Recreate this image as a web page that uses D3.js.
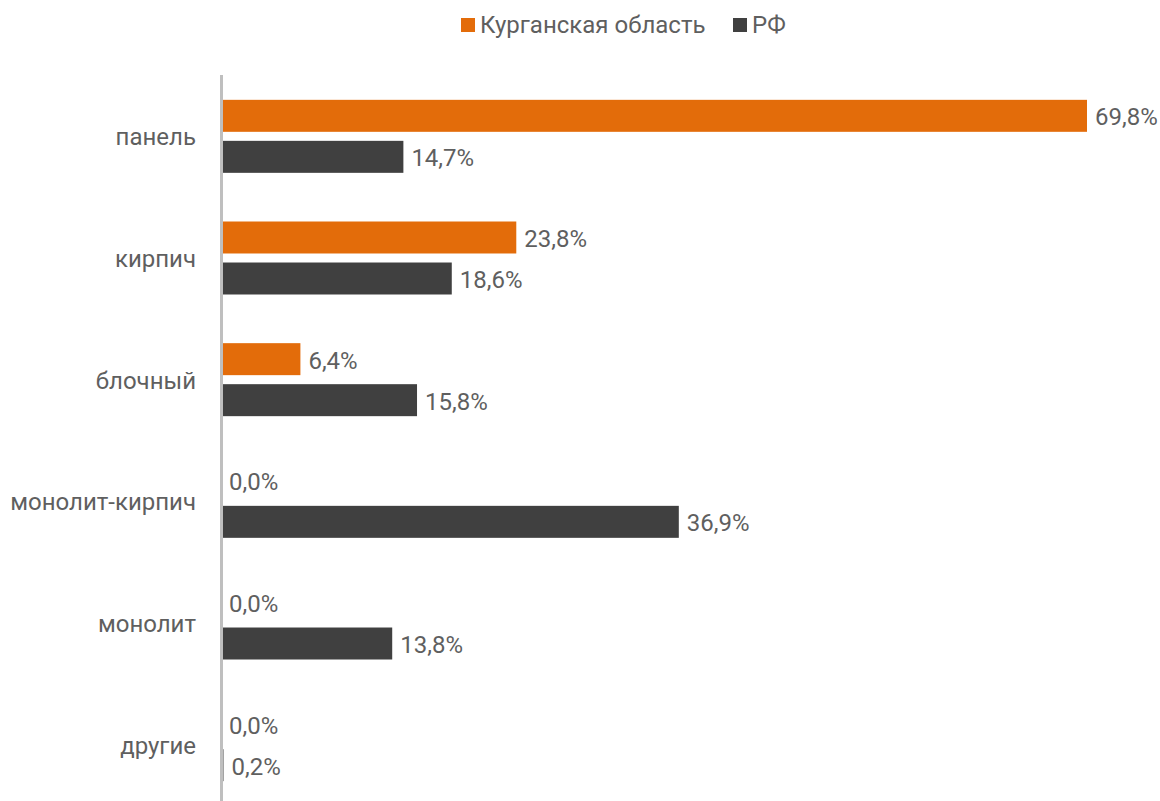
<!DOCTYPE html>
<html>
<head>
<meta charset="utf-8">
<script src="https://cdn.jsdelivr.net/npm/d3@7"></script>
<style>
  body { margin: 0; background: #fff; }
  text { font-family: Roboto, "Noto Sans", sans-serif; }
</style>
</head>
<body>
<div id="chart"></div>
<script>
// DATA
const categories = ["панель", "кирпич", "блочный", "монолит-кирпич", "монолит", "другие"]
const seriesNames = ["Курганская область", "РФ"]
const kurgan = [69.8, 23.8, 6.4, 0.0, 0.0, 0.0]
const rf = [14.7, 18.6, 15.8, 36.9, 13.8, 0.2]
const colors = ["#e36c0a", "#404040"]

const width = 1160, height = 801
const x0 = 221

const data = categories.map((c, i) => ({cat: c, vals: [kurgan[i], rf[i]]}))

const svg = d3.select("#chart").append("svg")
  .attr("width", width)
  .attr("height", height)

const yScale = d3.scaleBand()
  .domain(categories)
  .range([76, 806])

const xScale = d3.scaleLinear()
  .domain([0, 69.8])
  .range([x0, 1087])

const sub = d3.scaleBand()
  .domain([0, 1])
  .range([0, 73])
  .paddingInner(0.22)

// category labels
svg.append("g")
  .selectAll("text")
  .data(categories)
  .join("text")
    .attr("x", 196)
    .attr("y", d => yScale(d) + yScale.bandwidth() / 2)
    .attr("dy", "0.35em")
    .attr("text-anchor", "end")
    .attr("font-size", 24)
    .attr("fill", "#5f5f5f")
    .text(d => d)

// bars
const groups = svg.append("g")
  .selectAll("g")
  .data(data)
  .join("g")
    .attr("transform", d => `translate(0, ${yScale(d.cat) + yScale.bandwidth() / 2 - 37})`)

groups.selectAll("rect")
  .data(d => d.vals)
  .join("rect")
    .attr("x", x0)
    .attr("y", (d, i) => sub(i))
    .attr("width", d => xScale(d) - x0)
    .attr("height", sub.bandwidth())
    .attr("fill", (d, i) => colors[i])

groups.selectAll("text")
  .data(d => d.vals)
  .join("text")
    .attr("x", d => xScale(d) + 8)
    .attr("y", (d, i) => sub(i) + sub.bandwidth() / 2 + 1)
    .attr("dy", "0.35em")
    .attr("font-size", 24)
    .attr("fill", "#5f5f5f")
    .text(d => d.toFixed(1).replace(".", ",") + "%")

// axis line
svg.append("line")
  .attr("x1", 221.5).attr("x2", 221.5)
  .attr("y1", 75).attr("y2", height)
  .attr("stroke", "#bfbfbf")
  .attr("stroke-width", 3)

// legend
const legendX = [461, 733]
const legend = svg.append("g")
  .selectAll("g")
  .data(seriesNames)
  .join("g")
    .attr("transform", (d, i) => `translate(${legendX[i]}, 18)`)

legend.append("rect")
  .attr("width", 14).attr("height", 14)
  .attr("fill", (d, i) => colors[i])

legend.append("text")
  .attr("x", 19)
  .attr("y", 7)
  .attr("dy", "0.35em")
  .attr("font-size", 24)
  .attr("fill", "#5f5f5f")
  .text(d => d)
</script>
</body>
</html>
